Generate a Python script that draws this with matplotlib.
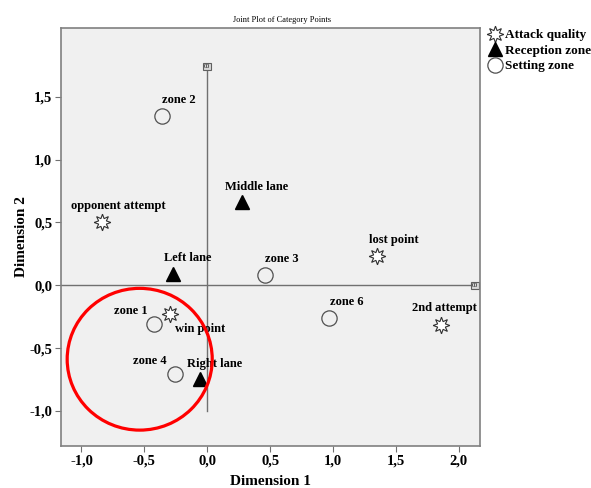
import matplotlib
matplotlib.use("Agg")
import matplotlib.pyplot as plt
from matplotlib.patches import Ellipse

plt.rcParams['font.family'] = ['Liberation Serif', 'DejaVu Serif']

# category points (Dimension 1, Dimension 2)
attack_labels = ["opponent attempt", "lost point", "2nd attempt", "win point"]
attack_x = [-0.84, 1.35, 1.855, -0.30]
attack_y = [0.50, 0.236, -0.315, -0.228]

reception_labels = ["Middle lane", "Left lane", "Right lane"]
reception_x = [0.276, -0.27, -0.058]
reception_y = [0.667, 0.09, -0.745]

setting_labels = ["zone 2", "zone 3", "zone 6", "zone 1", "zone 4"]
setting_x = [-0.36, 0.46, 0.97, -0.42, -0.257]
setting_y = [1.35, 0.083, -0.262, -0.307, -0.708]

xticks = [-1.0, -0.5, 0.0, 0.5, 1.0, 1.5, 2.0]
yticks = [-1.0, -0.5, 0.0, 0.5, 1.0, 1.5]

# label offsets in pixels (right, up) from each point
default_off = (17, 16)
label_off = {"2nd attempt": (4, 17), "zone 1": (-24, 13), "win point": (31, -15),
             "zone 4": (-25, 13), "Middle lane": (15, 15), "Left lane": (14, 16),
             "Right lane": (15, 15)}

fig = plt.figure(figsize=(5.91, 4.88), dpi=100)
ax = fig.add_axes([60.7 / 591, 1 - 445.7 / 488, (480 - 60.7) / 591, (445.7 - 27.7) / 488])
ax.set_facecolor('#f0f0f0')
ax.set_xlim(-1.165, 2.168)
ax.set_ylim(-1.276, 2.05)

# reference lines through the origin
ax.plot([-1.165, 2.10], [0, 0], color='#707070', lw=1, zorder=1)
ax.plot([0, 0], [-1.0, 1.72], color='#707070', lw=1, zorder=1)
box = dict(boxstyle='square,pad=0.15', fc='#d8d8d8', ec='#606060', lw=0.8)
ax.text(0, 1.74, "00", fontsize=4.5, ha='center', va='center', bbox=box, zorder=2)
ax.text(2.125, 0, "00", fontsize=4.5, ha='center', va='center', bbox=box, zorder=2)

ax.plot(attack_x, attack_y, ls='none', marker=(8, 1, 0), ms=12, mfc='white',
        mec='#303030', mew=0.8, label='Attack quality', zorder=3)
ax.plot(reception_x, reception_y, ls='none', marker='^', ms=10, mfc='black',
        mec='black', label='Reception zone', zorder=3)
ax.plot(setting_x, setting_y, ls='none', marker='o', ms=11, mfc='none',
        mec='#505050', mew=0.9, label='Setting zone', zorder=3)

for labels, xs, ys in [(attack_labels, attack_x, attack_y),
                       (reception_labels, reception_x, reception_y),
                       (setting_labels, setting_x, setting_y)]:
    for lab, x, y in zip(labels, xs, ys):
        dx, dy = label_off.get(lab, default_off)
        ax.annotate(lab, (x, y), xytext=(dx * 0.72, dy * 0.72), textcoords='offset points',
                    ha='center', va='center', fontsize=9, fontweight='bold', zorder=4)

ax.add_patch(Ellipse((-0.537, -0.588), 1.153, 1.128, fill=False, ec='red', lw=2.3, zorder=5))

ax.set_xticks(xticks)
ax.set_yticks(yticks)
ax.set_xticklabels([f"{v:.1f}".replace('.', ',') for v in xticks])
ax.set_yticklabels([f"{v:.1f}".replace('.', ',') for v in yticks])
ax.tick_params(length=4, color='#707070', labelsize=10.5, pad=2)
for t in ax.get_xticklabels() + ax.get_yticklabels():
    t.set_fontweight('bold')
for s in ax.spines.values():
    s.set_color('#808080')
    s.set_linewidth(1.2)

ax.set_xlabel("Dimension 1", fontsize=11, fontweight='bold', labelpad=6)
ax.set_ylabel("Dimension 2", fontsize=11, fontweight='bold', labelpad=1)
fig.text(282 / 591, 1 - 20 / 488, "Joint Plot of Category Points", fontsize=6,
         ha='center', va='center')

leg = ax.legend(loc='upper left', bbox_to_anchor=(489 / 591, 1 - 29 / 488),
                bbox_transform=fig.transFigure, frameon=False, handlelength=0.9,
                handletextpad=0.35, labelspacing=0.25, borderaxespad=0, borderpad=0,
                prop={'weight': 'bold', 'size': 9.5})

fig.savefig("out.png", dpi=100)
